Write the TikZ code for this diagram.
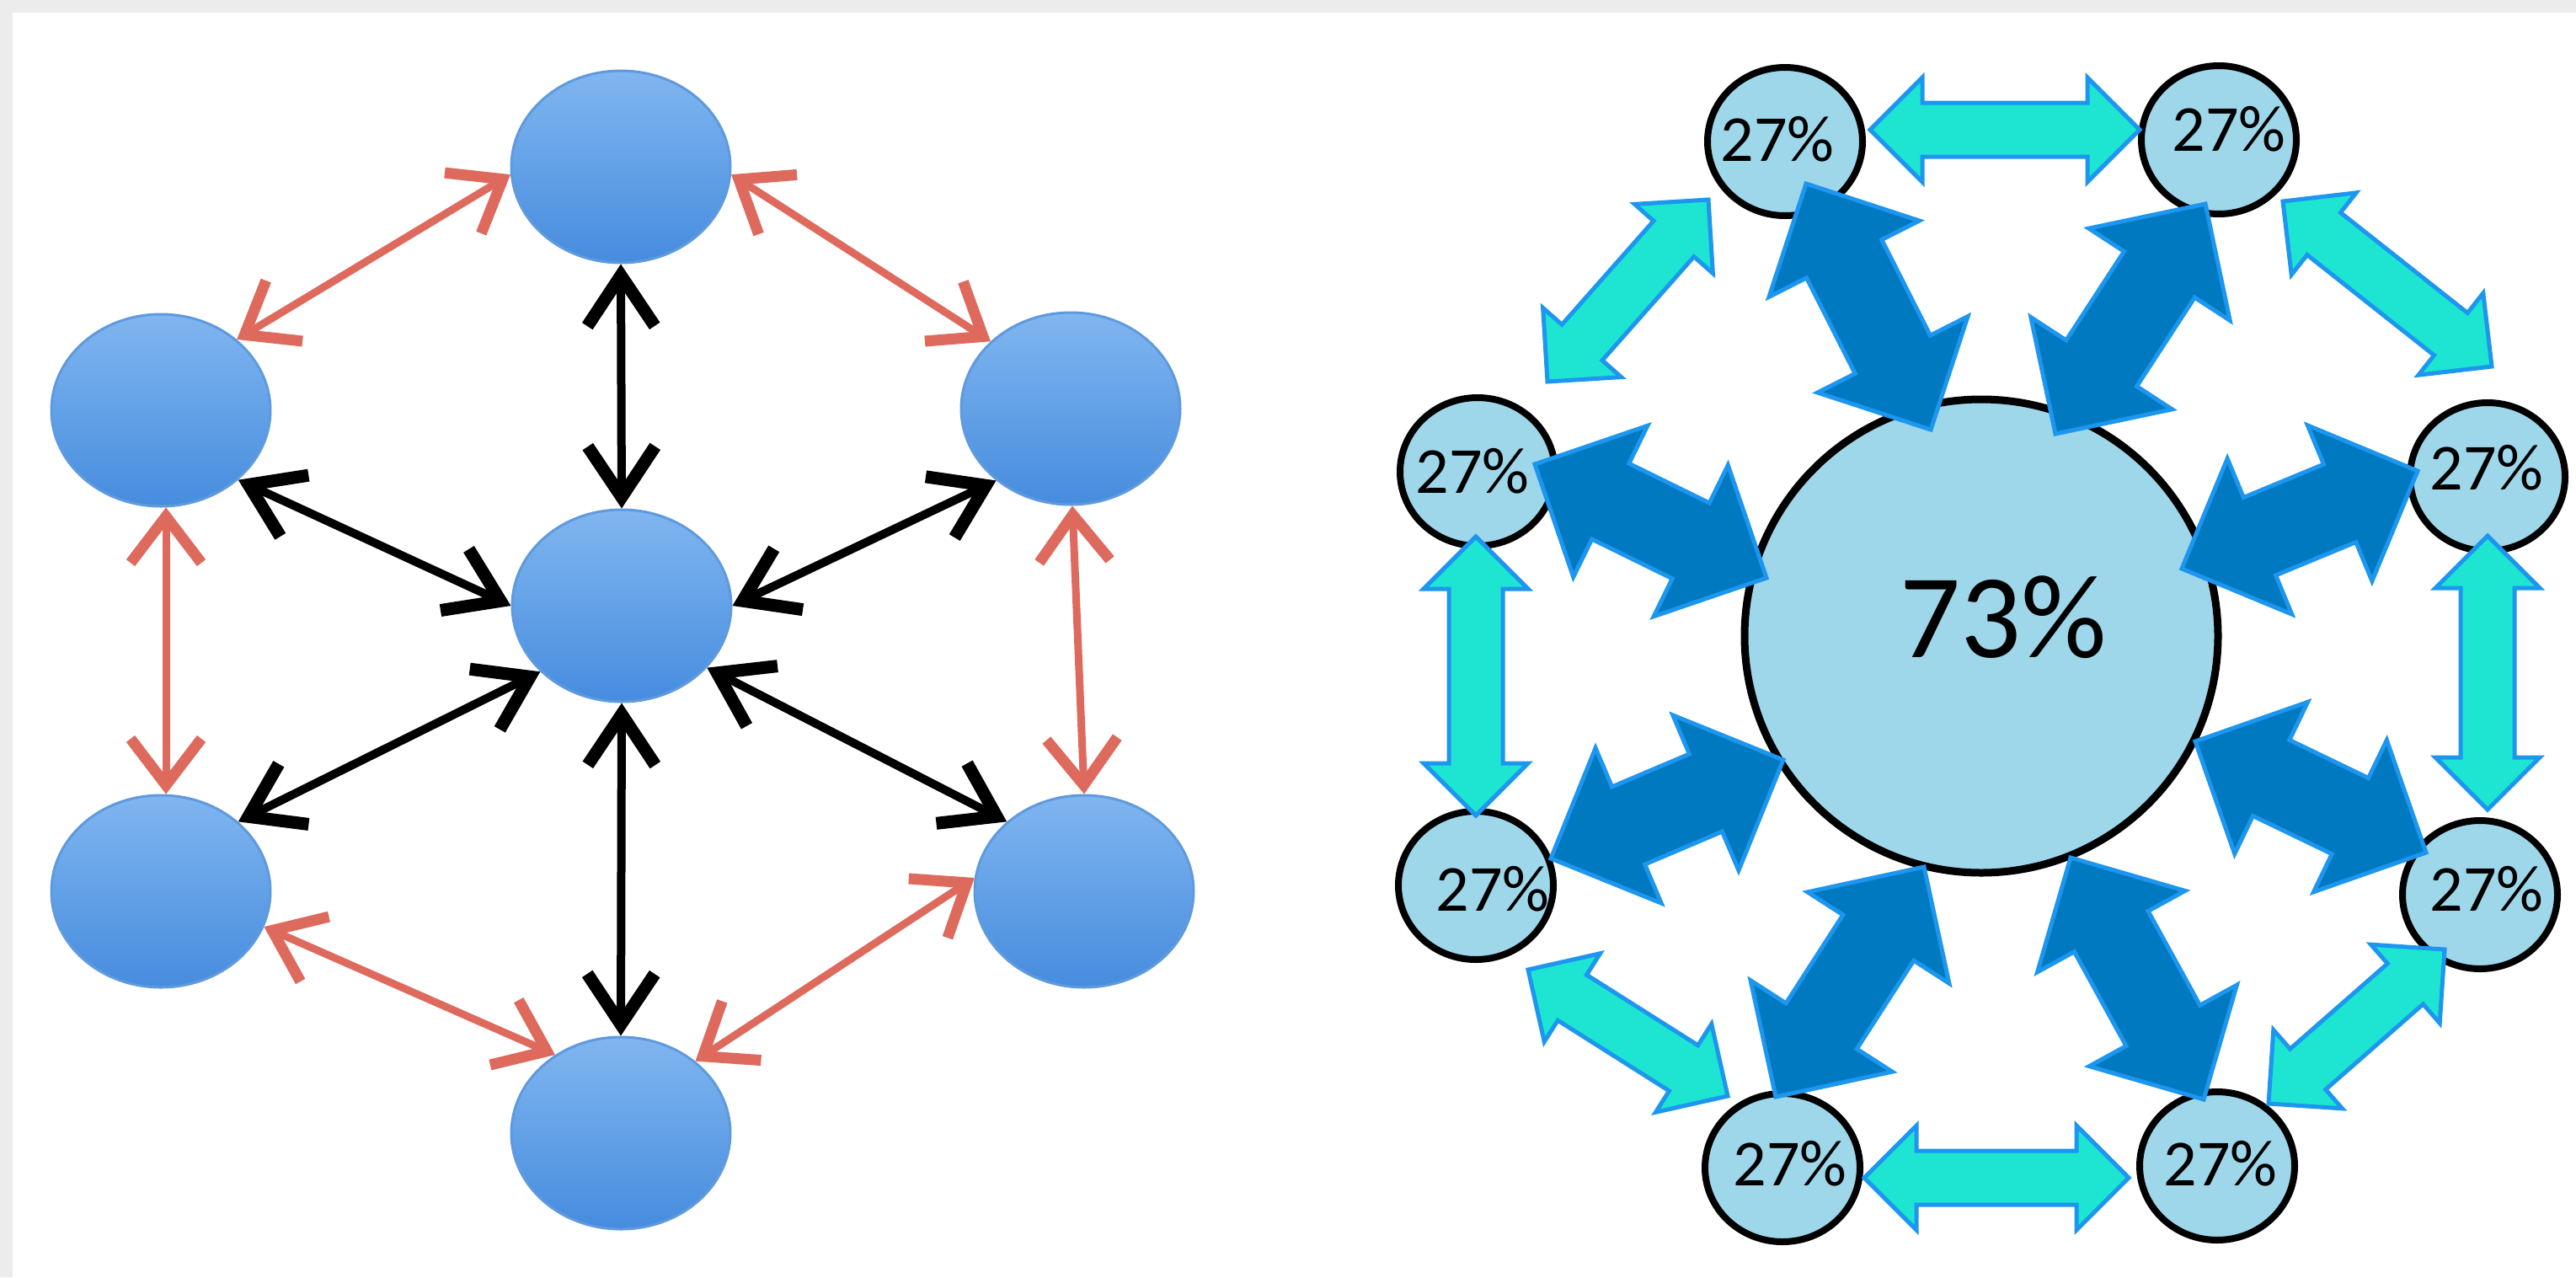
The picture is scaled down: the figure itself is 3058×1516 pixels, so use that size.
\documentclass[tikz,border=0pt]{standalone}
\usepackage{fontspec}
\setmainfont{Carlito}
\usetikzlibrary{arrows.meta,shapes.geometric,calc}

\definecolor{framegray}{RGB}{236,236,236}
\definecolor{nodetop}{RGB}{128,182,240}
\definecolor{nodebot}{RGB}{70,140,222}
\definecolor{nodeedge}{RGB}{96,154,222}
\definecolor{redc}{RGB}{222,106,94}
\definecolor{circfill}{RGB}{158,214,234}
\definecolor{darkblue}{RGB}{0,121,192}
\definecolor{edgeblue}{RGB}{28,150,238}
\definecolor{cyanc}{RGB}{30,228,210}

\tikzset{
  lnode/.style={ellipse, minimum width=260pt, minimum height=228pt, inner sep=0pt,
    top color=nodetop, bottom color=nodebot, draw=nodeedge, line width=3pt},
  redarr/.style={draw=redc, line width=9pt,
    >={Straight Barb[length=55pt,width=84pt,line width=13pt]}, <->},
  blkarr/.style={draw=black, line width=10pt,
    >={Straight Barb[length=60pt,width=80pt,line width=15pt]}, <->},
  bigc/.style={circle, minimum size=562pt, inner sep=0pt, draw=black, line width=9pt, fill=circfill},
  smallc/.style={ellipse, minimum width=184pt, minimum height=176pt, inner sep=0pt,
    draw=black, line width=8pt, fill=circfill},
  pct/.style={font=\fontsize{78pt}{80pt}\selectfont, inner sep=0pt, text=black},
  bigpct/.style={font=\fontsize{142pt}{146pt}\selectfont, inner sep=0pt, text=black},
  darkarr/.style={fill=darkblue, draw=edgeblue, line width=5pt, line join=miter},
  cyanarr/.style={fill=cyanc, draw=edgeblue, line width=5pt, line join=miter}
}

% #1 style, #2 from, #3 to, #4 shaft half width, #5 head half width, #6 head length
\newcommand\blockarrow[6]{%
  \path[#1] let \p1=(#2), \p2=(#3),
    \n1={atan2(\y2-\y1,\x2-\x1)}, \n2={veclen(\x2-\x1,\y2-\y1)},
    \n3={cos(\n1)}, \n4={sin(\n1)},
    \n5={#4}, \n6={#5}, \n7={#6}, \n8={\n2-#6} in
    (\p1)
    -- ({\x1+\n7*\n3-\n6*\n4},{\y1+\n7*\n4+\n6*\n3})
    -- ({\x1+\n7*\n3-\n5*\n4},{\y1+\n7*\n4+\n5*\n3})
    -- ({\x1+\n8*\n3-\n5*\n4},{\y1+\n8*\n4+\n5*\n3})
    -- ({\x1+\n8*\n3-\n6*\n4},{\y1+\n8*\n4+\n6*\n3})
    -- (\p2)
    -- ({\x1+\n8*\n3+\n6*\n4},{\y1+\n8*\n4-\n6*\n3})
    -- ({\x1+\n8*\n3+\n5*\n4},{\y1+\n8*\n4-\n5*\n3})
    -- ({\x1+\n7*\n3+\n5*\n4},{\y1+\n7*\n4-\n5*\n3})
    -- ({\x1+\n7*\n3+\n6*\n4},{\y1+\n7*\n4-\n6*\n3})
    -- cycle;%
}

\begin{document}
\begin{tikzpicture}[x=1pt,y=-1pt]
\useasboundingbox (0,0) rectangle (3058,1516);
\fill[framegray] (0,0) rectangle (3058,1516);
\fill[white] (15,15) rectangle (3058,1516);

% ---------- left diagram ----------
\node[lnode] (T)  at (737,198)  {};
\node[lnode] (UL) at (191,487)  {};
\node[lnode] (UR) at (1271,485) {};
\node[lnode] (C)  at (738,719)  {};
\node[lnode] (LL) at (191,1058) {};
\node[lnode] (LR) at (1287,1058) {};
\node[lnode] (B)  at (737,1345) {};

\draw[redarr] (T.184) -- (UL.43);
\draw[redarr] (T.356) -- (UR.140);
\draw[redarr] (UL.273) -- (LL.87);
\draw[redarr] (UR.271) -- (LR.90);
\draw[redarr] (LL.341) -- (B.130);
\draw[redarr] (LR.173) -- (B.44);

\draw[blkarr] (C.90) -- (T.270);
\draw[blkarr] (C.180) -- (UL.318);
\draw[blkarr] (C.0) -- (UR.224);
\draw[blkarr] (C.219) -- (LL.42);
\draw[blkarr] (C.324) -- (LR.138);
\draw[blkarr] (C.270) -- (B.90);

% ---------- right diagram ----------
\node[bigc] (M) at (2352,755) {};
\node[smallc] (tl) at (2119,168)  {};
\node[smallc] (tr) at (2634,166)  {};
\node[smallc] (lu) at (1754,560)  {};
\node[smallc] (ll) at (1752,1051) {};
\node[smallc] (ru) at (2953,566)  {};
\node[smallc] (rl) at (2944,1062) {};
\node[smallc] (bl) at (2116,1386) {};
\node[smallc] (br) at (2632,1384) {};

% cyan arrow ends
\coordinate (ca1) at (2220,154);  \coordinate (ca2) at (2540,154);
\coordinate (cb1) at (2213,1398); \coordinate (cb2) at (2527,1398);
\coordinate (cc1) at (1752,637);  \coordinate (cc2) at (1752,968);
\coordinate (cd1) at (2953,636);  \coordinate (cd2) at (2953,961);
\coordinate (ce1) at (2028,237);  \coordinate (ce2) at (1837,453);
\coordinate (cf1) at (2710,239);  \coordinate (cf2) at (2958,435);
\coordinate (cg1) at (1814,1151); \coordinate (cg2) at (2051,1301);
\coordinate (ch1) at (2902,1127); \coordinate (ch2) at (2693,1310);

\blockarrow{cyanarr}{ca1}{ca2}{32}{62}{62}
\blockarrow{cyanarr}{cb1}{cb2}{32}{62}{62}
\blockarrow{cyanarr}{cc1}{cc2}{32}{62}{62}
\blockarrow{cyanarr}{cd1}{cd2}{32}{62}{62}
\blockarrow{cyanarr}{ce1}{ce2}{32}{62}{62}
\blockarrow{cyanarr}{cf1}{cf2}{32}{62}{62}
\blockarrow{cyanarr}{cg1}{cg2}{32}{62}{62}
\blockarrow{cyanarr}{ch1}{ch2}{32}{62}{62}

% dark arrow ends
\coordinate (d1a) at (2144,218);  \coordinate (d1b) at (2292,510);
\coordinate (d2a) at (2618,242);  \coordinate (d2b) at (2440,515);
\coordinate (d3a) at (1822,551);  \coordinate (d3b) at (2097,686);
\coordinate (d4a) at (1841,1019); \coordinate (d4b) at (2117,902);
\coordinate (d5a) at (2870,559);  \coordinate (d5b) at (2590,675);
\coordinate (d6a) at (2880,1012); \coordinate (d6b) at (2606,880);
\coordinate (d7a) at (2108,1302); \coordinate (d7b) at (2284,1029);
\coordinate (d8a) at (2616,1305); \coordinate (d8b) at (2458,1018);

\blockarrow{darkarr}{d1a}{d1b}{50}{100}{100}
\blockarrow{darkarr}{d2a}{d2b}{50}{100}{100}
\blockarrow{darkarr}{d3a}{d3b}{50}{100}{100}
\blockarrow{darkarr}{d4a}{d4b}{50}{100}{100}
\blockarrow{darkarr}{d5a}{d5b}{50}{100}{100}
\blockarrow{darkarr}{d6a}{d6b}{50}{100}{100}
\blockarrow{darkarr}{d7a}{d7b}{50}{100}{100}
\blockarrow{darkarr}{d8a}{d8b}{50}{100}{100}

% labels
\node[bigpct] (Mt) at (2378,733) {73\%};
\node[pct] (tlt) at (2110,165)  {27\%};
\node[pct] (trt) at (2646,153)  {27\%};
\node[pct] (lut) at (1748,559)  {27\%};
\node[pct] (llt) at (1772,1055) {27\%};
\node[pct] (rut) at (2952,555)  {27\%};
\node[pct] (rlt) at (2952,1055) {27\%};
\node[pct] (blt) at (2125,1381) {27\%};
\node[pct] (brt) at (2636,1381) {27\%};
\end{tikzpicture}
\end{document}
